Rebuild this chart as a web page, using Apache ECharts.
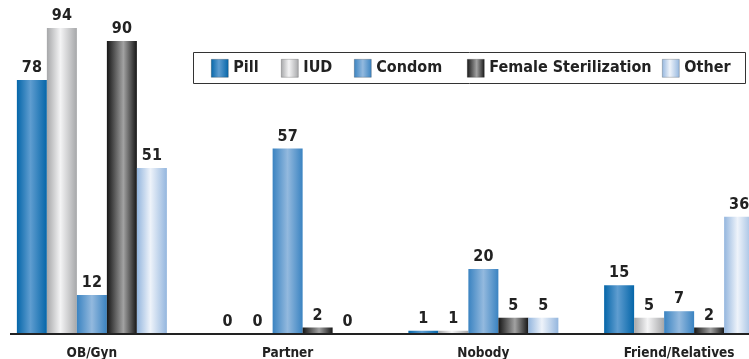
<!DOCTYPE html>
<html>
<head>
<meta charset="utf-8">
<script src="https://cdn.jsdelivr.net/npm/echarts@6/dist/echarts.min.js"></script>
<style>
  html, body { margin: 0; padding: 0; background: #fff; }
  #chart { width: 749px; height: 359px; }
</style>
</head>
<body>
<div id="chart"></div>
<script>
// Sources of contraceptive information, by method
const categories = ['OB/Gyn', 'Partner', 'Nobody', 'Friend/Relatives'];
const seriesNames = ['Pill', 'IUD', 'Condom', 'Female Sterilization', 'Other'];
const pill = [78, 0, 1, 15];
const iud = [94, 0, 1, 5];
const condom = [12, 57, 20, 7];
const femaleSterilization = [90, 2, 5, 2];
const other = [51, 0, 5, 36];

const values = [pill, iud, condom, femaleSterilization, other];

// cylinder-like horizontal shading for each method: [edge, highlight, highlight position]
const shades = [
  ['#0566a9', '#5f9dd0', 0.45],
  ['#a6a7a9', '#f4f4f5', 0.45],
  ['#3a83c1', '#93b9de', 0.5],
  ['#161616', '#a2a2a2', 0.55],
  ['#94b6de', '#eef3fa', 0.45]
];

// left edge of each legend entry inside the framed key
const legendLefts = [211, 281, 354, 467, 662];

function shade(s) {
  return new echarts.graphic.LinearGradient(0, 0, 1, 0, [
    { offset: 0, color: s[0] },
    { offset: s[2], color: s[1] },
    { offset: 1, color: s[0] }
  ]);
}

const chart = echarts.init(document.getElementById('chart'), null, { renderer: 'canvas' });
const font = '"DejaVu Sans Condensed", "DejaVu Sans", Verdana, sans-serif';
const ink = '#222';

chart.setOption({
  animation: false,
  backgroundColor: '#ffffff',
  textStyle: { fontFamily: font },
  legend: seriesNames.map((name, i) => ({
    left: legendLefts[i],
    top: 59,
    padding: 0,
    icon: 'rect',
    itemWidth: 17,
    itemHeight: 18,
    itemGap: 0,
    itemStyle: { borderColor: 'rgba(0,0,0,0.35)', borderWidth: 0.6 },
    textStyle: { fontFamily: font, fontWeight: 'bold', fontSize: 16, color: ink },
    data: [name]
  })),
  grid: { left: -6, right: -28, top: 8.5, bottom: 25, containLabel: false, outerBoundsMode: 'none' },
  xAxis: {
    type: 'category',
    data: categories,
    axisLine: { show: false },
    axisTick: { show: false },
    axisLabel: {
      margin: 12,
      fontFamily: font,
      fontWeight: 'bold',
      fontSize: 13.5,
      color: ink
    }
  },
  yAxis: {
    type: 'value',
    min: 0,
    max: 100,
    show: false,
    splitLine: { show: false }
  },
  series: seriesNames.map((name, i) => ({
    name: name,
    type: 'bar',
    data: values[i],
    barWidth: 30,
    barGap: '0%',
    itemStyle: { color: shade(shades[i]) },
    label: {
      show: true,
      position: 'top',
      distance: 4,
      fontFamily: font,
      fontWeight: 'bold',
      fontSize: 16,
      color: ink
    }
  }))
});

// baseline rule under the bars and the frame around the key
const y0 = chart.convertToPixel({ yAxisIndex: 0 }, 0);
chart.setOption({
  graphic: [{
    type: 'line',
    z: 10,
    shape: { x1: 10, y1: y0, x2: 749, y2: y0 },
    style: { stroke: ink, lineWidth: 2 }
  }, {
    type: 'rect',
    z: -1,
    shape: { x: 193.5, y: 52.5, width: 552, height: 31 },
    style: { fill: '#fff', stroke: '#333', lineWidth: 1 }
  }]
});
</script>
</body>
</html>
